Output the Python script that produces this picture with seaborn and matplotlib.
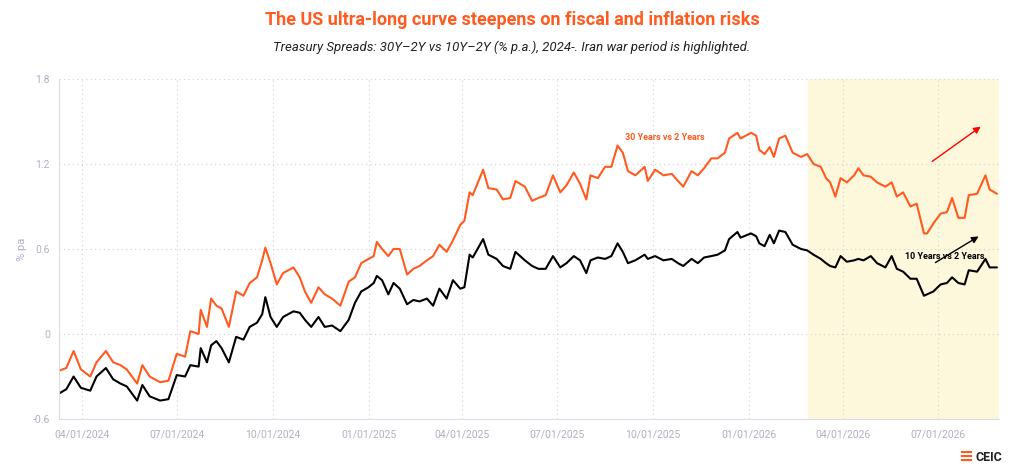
import matplotlib
matplotlib.use("Agg")
import matplotlib.pyplot as plt
import matplotlib.dates as mdates
import numpy as np
import pandas as pd
import seaborn as sns

# days since 2024-04-01 (approx weekly readings)
days = [-22, -15, -8, -1, 8, 14, 23, 30, 37, 43, 53, 58, 65, 75, 83, 91, 99, 104, 112, 114,
        120, 124, 129, 134, 141, 148, 155, 161, 168, 173, 176, 181, 187, 193, 203, 209, 214,
        220, 227, 233, 240, 248, 256, 262, 268, 275, 280, 283, 288, 294, 299, 305, 312, 318,
        324, 331, 337, 343, 350, 356, 363, 367, 372, 375, 385, 390, 398, 404, 411,
        416, 425, 432, 438, 445, 452, 459, 465, 472, 478, 484, 488, 495, 502, 508, 514, 519,
        524, 531, 540, 543, 550, 558, 566, 572, 577, 585, 591, 597, 604, 610, 617, 621, 629,
        632, 642, 647, 650, 655, 660, 664, 669, 675, 682, 690, 696, 702, 709, 714, 718, 723,
        728, 734, 741, 745, 750, 757, 763, 771, 777, 782, 788, 795, 801, 808, 811, 817, 824,
        830, 835, 841, 847, 851, 859, 867, 871, 878]
y30 = [-0.26, -0.24, -0.12, -0.25, -0.30, -0.20, -0.12, -0.20, -0.22, -0.25, -0.35, -0.22,
       -0.30, -0.34, -0.33, -0.14, -0.16, 0.02, 0.00, 0.17, 0.05, 0.25, 0.20, 0.18, 0.05, 0.30,
       0.27, 0.36, 0.40, 0.52, 0.61, 0.50, 0.35, 0.43, 0.47, 0.40, 0.30, 0.22, 0.33, 0.28, 0.25,
       0.20, 0.37, 0.40, 0.50, 0.53, 0.55, 0.65, 0.60, 0.55, 0.60, 0.60, 0.42, 0.46, 0.48, 0.52,
       0.55, 0.63, 0.58, 0.66, 0.77, 0.80, 1.00, 0.98, 1.16, 1.03, 1.02, 0.95, 0.96,
       1.08, 1.04, 0.94, 0.96, 0.98, 1.12, 1.00, 1.05, 1.14, 1.06, 0.95, 1.12, 1.10, 1.18, 1.18,
       1.33, 1.28, 1.15, 1.12, 1.18, 1.08, 1.16, 1.12, 1.13, 1.08, 1.04, 1.15, 1.12, 1.17, 1.24,
       1.24, 1.28, 1.38, 1.42, 1.38, 1.42, 1.40, 1.30, 1.27, 1.32, 1.25, 1.38, 1.40, 1.28, 1.25,
       1.27, 1.20, 1.18, 1.10, 1.07, 0.97, 1.10, 1.07, 1.12, 1.17, 1.12, 1.11, 1.07, 1.04, 1.07,
       0.97, 1.00, 0.90, 0.92, 0.71, 0.71, 0.78, 0.85, 0.86, 0.96, 0.82, 0.82, 0.98, 0.99, 1.12,
       1.02, 0.99]
y10 = [-0.42, -0.39, -0.30, -0.38, -0.40, -0.30, -0.24, -0.32, -0.35, -0.37, -0.47, -0.36,
       -0.44, -0.47, -0.46, -0.29, -0.30, -0.22, -0.23, -0.10, -0.20, -0.08, -0.05, -0.10, -0.20,
       -0.02, -0.04, 0.05, 0.08, 0.14, 0.26, 0.12, 0.05, 0.12, 0.16, 0.15, 0.10, 0.05, 0.12, 0.05,
       0.06, 0.02, 0.10, 0.22, 0.30, 0.33, 0.36, 0.41, 0.38, 0.28, 0.36, 0.32, 0.21, 0.24, 0.23,
       0.25, 0.20, 0.32, 0.25, 0.38, 0.32, 0.33, 0.56, 0.54, 0.67, 0.56, 0.53, 0.48, 0.46,
       0.58, 0.52, 0.48, 0.46, 0.46, 0.55, 0.47, 0.50, 0.55, 0.52, 0.43, 0.52, 0.54, 0.53, 0.55,
       0.64, 0.58, 0.50, 0.52, 0.56, 0.53, 0.55, 0.52, 0.53, 0.50, 0.48, 0.53, 0.50, 0.54, 0.55,
       0.56, 0.59, 0.67, 0.72, 0.68, 0.71, 0.69, 0.64, 0.62, 0.70, 0.64, 0.73, 0.72, 0.63, 0.60,
       0.59, 0.56, 0.53, 0.50, 0.48, 0.47, 0.55, 0.51, 0.52, 0.53, 0.52, 0.55, 0.50, 0.47, 0.55,
       0.46, 0.44, 0.39, 0.39, 0.27, 0.28, 0.30, 0.35, 0.36, 0.40, 0.36, 0.35, 0.45, 0.44, 0.53,
       0.47, 0.47]

base = pd.Timestamp("2024-04-01")
dates = base + pd.to_timedelta(days, unit="D")
df = pd.DataFrame({"date": dates, "30 Years vs 2 Years": y30, "10 Years vs 2 Years": y10})
df = df.melt(id_vars="date", var_name="series", value_name="value")

sns.set_style("white")
plt.rcParams["font.family"] = ["Roboto", "DejaVu Sans"]

fig = plt.figure(figsize=(10.24, 4.73), dpi=100)
ax = fig.add_axes([59 / 1024, 1 - 419 / 473, 940 / 1024, 340 / 473])

ax.axvspan(pd.Timestamp("2026-02-27"), pd.Timestamp("2026-08-29"), color="#fdf8dc", zorder=0)
sns.lineplot(data=df, x="date", y="value", hue="series",
             palette={"30 Years vs 2 Years": "#ff5a1f", "10 Years vs 2 Years": "black"},
             linewidth=1.5, legend=False, ax=ax)

ax.set_xlim(pd.Timestamp("2024-03-10"), pd.Timestamp("2026-08-29"))
ax.set_ylim(-0.6, 1.8)
ax.set_yticks([-0.6, 0, 0.6, 1.2, 1.8])
ax.set_yticklabels(["-0.6", "0", "0.6", "1.2", "1.8"])
ax.xaxis.set_major_locator(mdates.MonthLocator(bymonth=[1, 4, 7, 10]))
ax.xaxis.set_major_formatter(mdates.DateFormatter("%m/%d/%Y"))
ax.tick_params(colors="#b0b0c0", labelsize=7.5, length=4)
ax.tick_params(axis="y", length=3)
ax.grid(True, linestyle=(0, (1, 3)), color="#d0d0d8", linewidth=0.8)
for s in ["top", "right"]:
    ax.spines[s].set_visible(False)
for s in ["left", "bottom"]:
    ax.spines[s].set_color("#dcdce4")
ax.set_xlabel("")
ax.set_ylabel("% pa", color="#b0b0c8", fontsize=8)

def fx(px):
    return (px - 59) / 940

def fy(py):
    return (419 - py) / 340

ax.text(fx(665), fy(137), "30 Years vs 2 Years", transform=ax.transAxes, color="#ff5a1f",
        fontsize=6.5, fontweight="bold", ha="center", va="center")
ax.annotate("", xy=(fx(983), fy(125)), xytext=(fx(930), fy(163)), xycoords="axes fraction",
            arrowprops=dict(arrowstyle="-|>", color="red", lw=1))
ax.text(fx(945), fy(256), "10 Years vs 2 Years", transform=ax.transAxes, color="black",
        fontsize=6.5, fontweight="bold", ha="center", va="center")
ax.annotate("", xy=(fx(981), fy(235)), xytext=(fx(933), fy(264)), xycoords="axes fraction",
            arrowprops=dict(arrowstyle="-|>", color="black", lw=1))

fig.text(0.5, 1 - 20 / 473, "The US ultra-long curve steepens on fiscal and inflation risks",
         ha="center", va="center", color="#ff5a1f", fontsize=13, fontweight="bold")
fig.text(0.5, 1 - 47 / 473,
         "Treasury Spreads: 30Y\u20132Y vs 10Y\u20132Y (% p.a.), 2024-. Iran war period is highlighted.",
         ha="center", va="center", fontsize=9.5, style="italic", color="#222222")
fig.text(976 / 1024, 1 - 457 / 473, "CEIC", ha="left", va="center", fontsize=9,
         fontweight="bold", color="#222222")
fig.text(966 / 1024, 1 - 457 / 473, "\u2261", ha="center", va="center", fontsize=13,
         fontweight="bold", color="#ff5a1f")

fig.savefig("out.png", dpi=100)
